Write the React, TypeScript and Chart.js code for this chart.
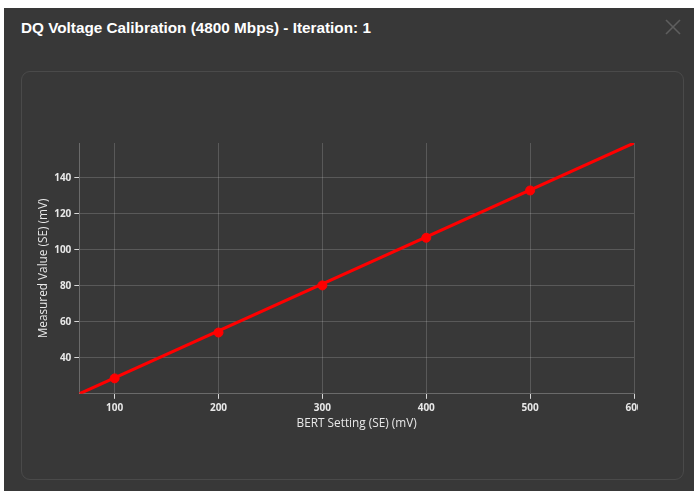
import React, { useEffect, useRef } from "react";
import { Chart, registerables } from "chart.js";

Chart.register(...registerables);

const TITLE = "DQ Voltage Calibration (4800 Mbps) - Iteration: 1";
const X_TITLE = "BERT Setting (SE) (mV)";
const Y_TITLE = "Measured Value (SE) (mV)";

const bertSettings = [100, 200, 300, 400, 500];
const measuredValues = [28.5, 54.0, 80.2, 106.7, 133.0];

const fitX = [66, 600];
const fitY = [19.9, 159.4];

const xTicks = [100, 200, 300, 400, 500, 600];
const yTicks = [40, 60, 80, 100, 120, 140];

const BG = "#383838";
const RED = "#ff0000";
const FONT = "'Open Sans', 'Noto Sans', sans-serif";

function App() {
  const ref = useRef<HTMLCanvasElement | null>(null);

  useEffect(() => {
    if (!ref.current) return;
    const chart = new Chart(ref.current, {
      type: "scatter",
      data: {
        datasets: [
          {
            label: "Fit",
            data: fitX.map((x, i) => ({ x, y: fitY[i] })),
            showLine: true,
            borderColor: RED,
            backgroundColor: RED,
            borderWidth: 3,
            pointRadius: 0,
            order: 2,
          },
          {
            label: "Measured",
            data: bertSettings.map((x, i) => ({ x, y: measuredValues[i] })),
            showLine: false,
            borderColor: RED,
            backgroundColor: RED,
            pointRadius: 4.5,
            pointBorderWidth: 1,
            order: 1,
          },
        ],
      },
      options: {
        animation: false,
        responsive: false,
        maintainAspectRatio: false,
        devicePixelRatio: 1,
        layout: { padding: { left: 4, right: 20, top: 63, bottom: 6 } },
        plugins: {
          legend: { display: false },
          tooltip: { enabled: false },
          title: { display: false },
        },
        scales: {
          x: {
            type: "linear",
            min: fitX[0],
            max: fitX[1],
            afterBuildTicks: (axis: any) => {
              axis.ticks = xTicks.map((v) => ({ value: v }));
            },
            grid: {
              color: "rgba(255,255,255,0.17)",
              tickColor: "#d8d8d8",
              tickLength: 5,
            },
            border: { color: "rgba(255,255,255,0.25)" },
            ticks: {
              color: "#e8e8e8",
              font: { family: FONT, size: 10, weight: "bold" },
              padding: 3,
              maxRotation: 0,
            },
            title: {
              display: true,
              text: X_TITLE,
              color: "#e8e8e8",
              font: { family: FONT, size: 11.8 },
              padding: { top: 0, bottom: 3 },
            },
          },
          y: {
            type: "linear",
            min: fitY[0],
            max: fitY[1],
            afterBuildTicks: (axis: any) => {
              axis.ticks = yTicks.map((v) => ({ value: v }));
            },
            grid: {
              color: "rgba(255,255,255,0.17)",
              tickColor: "#d8d8d8",
              tickLength: 5,
            },
            border: { color: "rgba(255,255,255,0.25)" },
            ticks: {
              color: "#e8e8e8",
              font: { family: FONT, size: 10, weight: "bold" },
              padding: 3,
            },
            title: {
              display: true,
              text: Y_TITLE,
              color: "#e8e8e8",
              font: { family: FONT, size: 11.8 },
              padding: { top: 3, bottom: 0 },
            },
          },
        },
      },
    });
    return () => chart.destroy();
  }, []);

  return (
    <div
      style={{
        position: "fixed",
        left: 0,
        top: 0,
        width: 694,
        height: 491,
        background: "#ffffff",
        overflow: "hidden",
      }}
    >
      <div
        style={{
          position: "absolute",
          left: 4,
          top: 8,
          width: 700,
          height: 490,
          background: BG,
        }}
      />
      <div
        style={{
          position: "absolute",
          left: 21,
          top: 19,
          fontFamily: "'Liberation Sans', Arial, sans-serif",
          fontWeight: "bold",
          fontSize: 15.3,
          color: "#ffffff",
          whiteSpace: "nowrap",
          lineHeight: "18px",
        }}
      >
        {TITLE}
      </div>
      <svg
        style={{ position: "absolute", left: 665, top: 19 }}
        width={16}
        height={16}
        viewBox="0 0 16 16"
      >
        <line x1="1" y1="1" x2="15" y2="15" stroke="#5e5e5e" strokeWidth="1.6" />
        <line x1="15" y1="1" x2="1" y2="15" stroke="#5e5e5e" strokeWidth="1.6" />
      </svg>
      <div
        style={{
          position: "absolute",
          left: 21,
          top: 71,
          width: 663,
          height: 409,
          border: "1px solid #4a4a4a",
          borderRadius: 9,
          boxSizing: "border-box",
        }}
      />
      <div
        style={{
          position: "absolute",
          left: 30,
          top: 80,
          width: 608,
          height: 360,
          overflow: "hidden",
        }}
      >
        <canvas
          ref={ref}
          width={624}
          height={360}
          style={{ width: 624, height: 360, display: "block" }}
        />
      </div>
    </div>
  );
}

export default App;
